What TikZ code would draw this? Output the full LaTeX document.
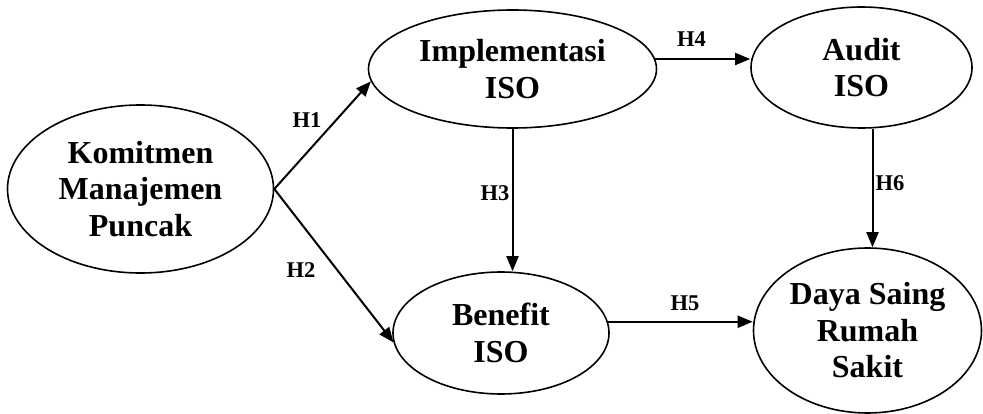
\documentclass[tikz,border=0pt]{standalone}
\usepackage{fontspec}
\setmainfont{Liberation Serif}
\usetikzlibrary{shapes.geometric,arrows.meta}
\begin{document}
\begin{tikzpicture}[x=1pt,y=-1pt,
  var/.style={ellipse,draw,line width=1.6pt,inner sep=0pt,align=center,
    font=\bfseries\fontsize{32}{36.5}\selectfont},
  hyp/.style={font=\bfseries\fontsize{22.5}{25}\selectfont,inner sep=0pt},
  link/.style={line width=2pt,-{Triangle[length=15pt,width=12pt]}}]
\useasboundingbox (0,0) rectangle (983,414);
\node[var,minimum width=266pt,minimum height=168pt] (kom) at (140.5,189) {Komitmen\\Manajemen\\Puncak};
\node[var,minimum width=288pt,minimum height=118pt] (impl) at (512.5,69) {Implementasi\\ISO};
\node[var,minimum width=221pt,minimum height=121pt] (audit) at (861.5,67.5) {Audit\\ISO};
\node[var,minimum width=216pt,minimum height=122pt] (ben) at (501,333) {Benefit\\ISO};
\node[var,minimum width=228pt,minimum height=165pt] (daya) at (867.5,330.5) {Daya Saing\\Rumah\\Sakit};
\draw[link] (kom.east) -- (impl.185);
\draw[link] (kom.east) -- (ben.185);
\draw[link] (impl.south) -- (impl.south |- ben.north);
\draw[link] (impl.4) -- (impl.4 -| audit.west);
\draw[link] (ben.6) -- (ben.6 -| daya.west);
\draw[link] ([xshift=11pt]audit.south) -- ([xshift=5pt]daya.north);
\node[hyp] (h1) at (307,120.5) {H1};
\node[hyp] (h2) at (301,270) {H2};
\node[hyp] (h3) at (495,193) {H3};
\node[hyp] (h4) at (691.5,39) {H4};
\node[hyp] (h5) at (685,303) {H5};
\node[hyp] (h6) at (890,183) {H6};
\end{tikzpicture}
\end{document}
